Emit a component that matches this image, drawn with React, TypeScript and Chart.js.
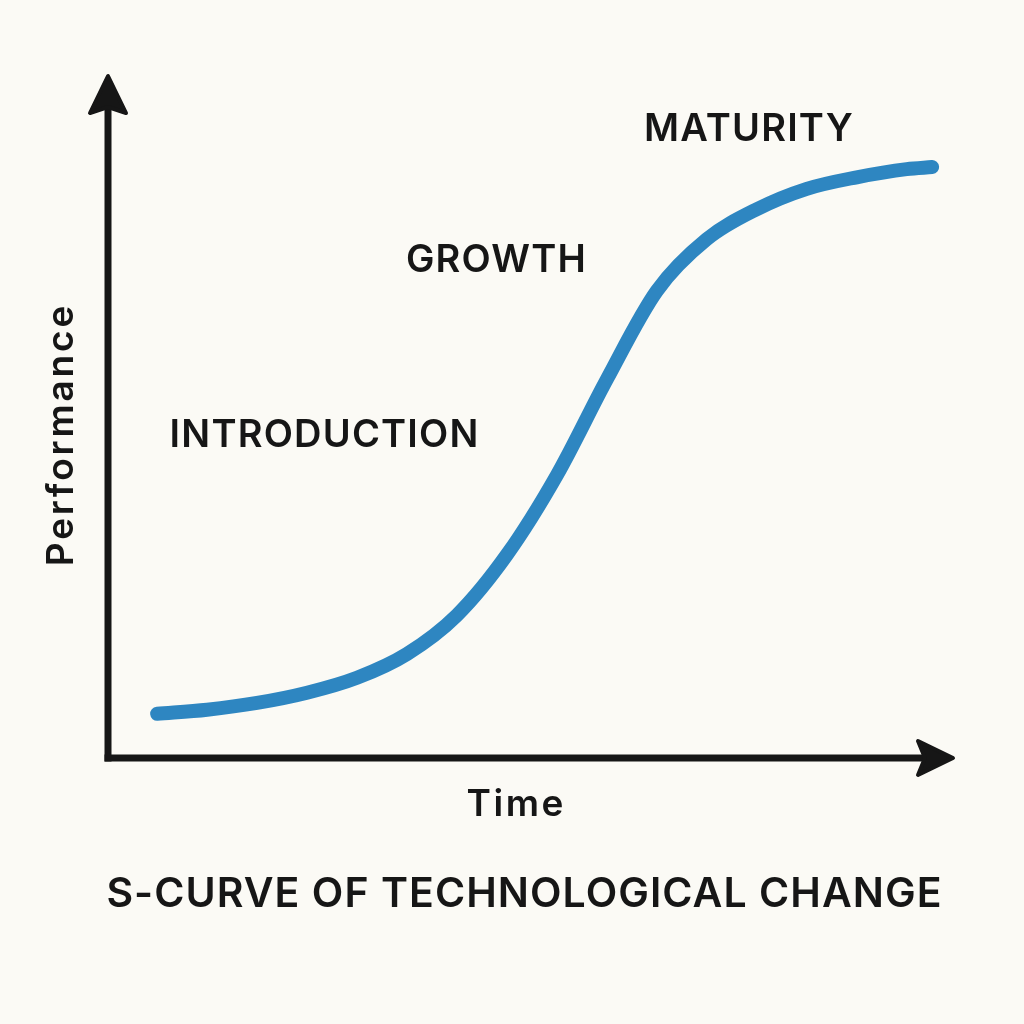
import React, { useEffect, useRef } from "react";
import { Chart, registerables } from "chart.js";

Chart.register(...registerables);

// S-curve data (time vs performance, 0–100 scale)
const timeValues = [5.8, 11.7, 17.6, 23.5, 29.4, 35.3, 41.2, 47.1, 53.0, 58.9, 64.8, 70.7, 76.6, 82.5, 88.4, 94.3, 97.3];
const performanceValues = [6.5, 7.1, 8.1, 9.6, 11.8, 15.3, 21.0, 29.9, 41.6, 55.7, 68.7, 76.3, 80.7, 83.7, 85.4, 86.6, 86.9];

const phaseLabels = ["INTRODUCTION", "GROWTH", "MATURITY"];
const phaseX = [25.5, 45.8, 75.6];
const phaseY = [47.4, 73.2, 92.4];

const xAxisTitle = "Time";
const yAxisTitle = "Performance";
const chartTitle = "S-CURVE OF TECHNOLOGICAL CHANGE";

const BG = "#fbfaf5";
const INK = "#161616";
const CURVE = "#2e86c1";
const FONT = "Inter, 'Noto Sans', sans-serif";

function drawText(ctx: any, text: string, x: number, y: number, font: string, spacing: number) {
  ctx.font = font;
  ctx.letterSpacing = `${spacing}px`;
  // compensate trailing spacing so the text stays centred
  ctx.fillText(text, x + spacing / 2, y);
  ctx.letterSpacing = "0px";
}

const decorPlugin = {
  id: "decor",
  beforeDraw(chart: any) {
    const ctx = chart.ctx;
    ctx.save();
    ctx.fillStyle = BG;
    ctx.fillRect(0, 0, chart.width, chart.height);
    ctx.restore();
  },
  afterDatasetsDraw(chart: any) {
    const ctx = chart.ctx;
    const { left, right, top, bottom } = chart.chartArea;
    ctx.save();
    // axes lines
    ctx.strokeStyle = INK;
    ctx.fillStyle = INK;
    ctx.lineWidth = 7;
    ctx.lineCap = "butt";
    ctx.beginPath();
    ctx.moveTo(left, bottom + 3.5);
    ctx.lineTo(left, top + 25);
    ctx.stroke();
    ctx.beginPath();
    ctx.moveTo(left - 3.5, bottom);
    ctx.lineTo(right - 25, bottom);
    ctx.stroke();
    // arrowheads
    ctx.lineJoin = "round";
    ctx.lineWidth = 4;
    ctx.beginPath();
    ctx.moveTo(left, top - 2);
    ctx.lineTo(left - 18, top + 35);
    ctx.lineTo(left, top + 29);
    ctx.lineTo(left + 18, top + 35);
    ctx.closePath();
    ctx.fill();
    ctx.stroke();
    ctx.beginPath();
    ctx.moveTo(right - 2, bottom);
    ctx.lineTo(right - 37, bottom - 17);
    ctx.lineTo(right - 30, bottom);
    ctx.lineTo(right - 37, bottom + 17);
    ctx.closePath();
    ctx.fill();
    ctx.stroke();

    // texts
    ctx.fillStyle = INK;
    ctx.textAlign = "center";
    ctx.textBaseline = "middle";
    const xs = chart.scales.x;
    const ys = chart.scales.y;
    phaseLabels.forEach((t, i) => {
      drawText(ctx, t, xs.getPixelForValue(phaseX[i]), ys.getPixelForValue(phaseY[i]), `600 38px ${FONT}`, 1.2);
    });
    drawText(ctx, xAxisTitle, 515, 805, `600 37px ${FONT}`, 2.5);
    drawText(ctx, chartTitle, 524, 895, `600 41px ${FONT}`, 1.05);
    ctx.save();
    ctx.translate(62, 436);
    ctx.rotate(-Math.PI / 2);
    drawText(ctx, yAxisTitle, 0, 0, `600 37px ${FONT}`, 2.8);
    ctx.restore();
    ctx.restore();
  },
};

export default function App() {
  const ref = useRef<HTMLCanvasElement>(null);
  useEffect(() => {
    if (!ref.current) return;
    const chart = new Chart(ref.current, {
      type: "line",
      data: {
        datasets: [
          {
            data: timeValues.map((x, i) => ({ x, y: performanceValues[i] })),
            borderColor: CURVE,
            borderWidth: 14,
            borderCapStyle: "round",
            borderJoinStyle: "round",
            pointRadius: 0,
            cubicInterpolationMode: "monotone",
            fill: false,
          },
        ],
      },
      options: {
        responsive: false,
        animation: false,
        layout: { padding: { left: 108, right: 1024 - 955, top: 78, bottom: 1024 - 758 } },
        plugins: { legend: { display: false }, tooltip: { enabled: false }, title: { display: false } },
        scales: {
          x: { type: "linear", min: 0, max: 100, display: false },
          y: { type: "linear", min: 0, max: 100, display: false },
        },
      },
      plugins: [decorPlugin],
    });
    return () => chart.destroy();
  }, []);
  return (
    <div style={{ position: "fixed", left: 0, top: 0, width: 1024, height: 1024, background: BG }}>
      <canvas ref={ref} width={1024} height={1024} style={{ display: "block" }} />
    </div>
  );
}
